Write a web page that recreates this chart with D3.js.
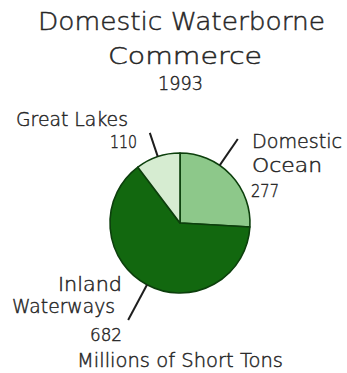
<!DOCTYPE html>
<html>
<head>
<meta charset="utf-8">
<script src="https://cdn.jsdelivr.net/npm/d3@7/dist/d3.min.js"></script>
<style>
  html, body { margin: 0; padding: 0; background: #ffffff; }
  svg { display: block; }
  text { font-family: "DejaVu Sans", sans-serif; font-weight: 300; fill: #262626;
         stroke: #262626; stroke-width: 0.45px; }
</style>
</head>
<body>
<svg id="chart" width="347" height="373"></svg>
<script>
// Domestic waterborne commerce, 1993, millions of short tons
const categories = ["Domestic Ocean", "Inland Waterways", "Great Lakes"];
const tonnage = [277, 682, 110];
const titleLines = ["Domestic Waterborne", "Commerce", "1993"];
const unitsLabel = "Millions of Short Tons";
const labelLines = [["Domestic", "Ocean"], ["Inland", "Waterways"], ["Great Lakes"]];

// presentation
const sliceFill = ["#8dc88a", "#12680f", "#d6ecd1"];
const W = 347, H = 373;
const cx = 180, cy = 223, R = 70;

const svg = d3.select("#chart");

// fit a text element to a given width
function fit(sel, width) {
  sel.attr("textLength", width).attr("lengthAdjust", "spacingAndGlyphs");
}

// title block
const titleLayout = [
  { x: 181.5, y: 29.5, size: 24, w: 287 },
  { x: 185,   y: 64,   size: 23, w: 154 },
  { x: 180.5, y: 90,   size: 19, w: 45 }
];
titleLines.forEach((t, i) => {
  const L = titleLayout[i];
  svg.append("text")
    .attr("x", L.x).attr("y", L.y)
    .attr("text-anchor", "middle")
    .style("font-size", L.size + "px")
    .text(t)
    .call(fit, L.w);
});

// pie
const pie = d3.pie().sort(null).value(d => d)
  .startAngle(0).endAngle(2 * Math.PI);
const arcs = pie(tonnage);
const arc = d3.arc().innerRadius(0).outerRadius(R);

const g = svg.append("g").attr("transform", `translate(${cx},${cy})`);
g.selectAll("path.slice")
  .data(arcs)
  .join("path")
  .attr("class", "slice")
  .attr("d", arc)
  .attr("fill", (d, i) => sliceFill[i])
  .attr("stroke", "#0c3f0c")
  .attr("stroke-width", 1.6)
  .attr("stroke-linejoin", "round");

// leader lines: position within slice (0..1) and outer radius
const leaderLayout = [
  { t: 0.37, r0: 70, r1: 102 },
  { t: 0.50, r0: 70, r1: 110 },
  { t: 0.50, r0: 70, r1: 95 }
];
arcs.forEach((a, i) => {
  const L = leaderLayout[i];
  const ang = a.startAngle + (a.endAngle - a.startAngle) * L.t;
  const p = r => [cx + r * Math.sin(ang), cy - r * Math.cos(ang)];
  const [x0, y0] = p(L.r0), [x1, y1] = p(L.r1);
  svg.append("line")
    .attr("x1", x0).attr("y1", y0).attr("x2", x1).attr("y2", y1)
    .attr("stroke", "#1e1e1e").attr("stroke-width", 2);
});

// slice labels: name lines followed by the value
const labelLayout = [
  [ { x: 252, y: 148, a: "start", w: 90, s: 19 },
    { x: 252, y: 172, a: "start", w: 70, s: 19 },
    { x: 251, y: 197, a: "start", w: 28, s: 17 } ],
  [ { x: 122, y: 291, a: "end", w: 64, s: 19 },
    { x: 115, y: 313, a: "end", w: 103, s: 19 },
    { x: 122, y: 341, a: "end", w: 32, s: 17 } ],
  [ { x: 128, y: 125.5, a: "end", w: 112, s: 19 },
    { x: 137, y: 148, a: "end", w: 27, s: 17 } ]
];
categories.forEach((c, i) => {
  const lines = labelLines[i].concat([String(tonnage[i])]);
  lines.forEach((t, j) => {
    const L = labelLayout[i][j];
    svg.append("text")
      .attr("x", L.x).attr("y", L.y)
      .attr("text-anchor", L.a)
      .style("font-size", L.s + "px")
      .text(t)
      .call(fit, L.w);
  });
});

// units note
svg.append("text")
  .attr("x", 180).attr("y", 367)
  .attr("text-anchor", "middle")
  .style("font-size", "19px")
  .text(unitsLabel)
  .call(fit, 206);
</script>
</body>
</html>
